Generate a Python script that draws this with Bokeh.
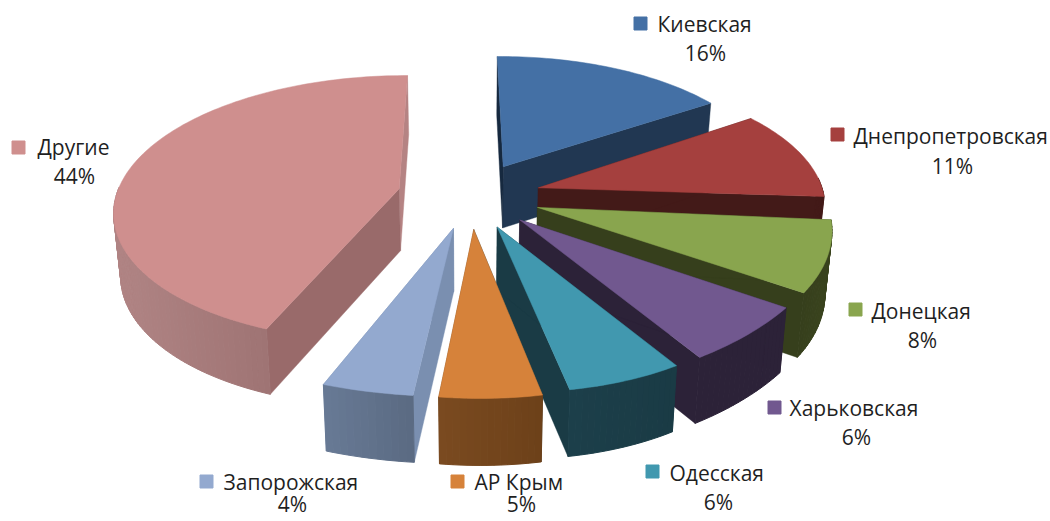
import math
from bokeh.plotting import figure
from bokeh.core.properties import value
from bokeh.embed import file_html
from bokeh.resources import INLINE

# --- data -------------------------------------------------------------
regions = ["Киевская", "Днепропетровская", "Донецкая", "Харьковская",
           "Одесская", "АР Крым", "Запорожская", "Другие"]
shares = [16, 11, 8, 6, 6, 5, 4, 44]
share_labels = ["16%", "11%", "8%", "6%", "6%", "5%", "4%", "44%"]

# --- styles -----------------------------------------------------------
top_colors = ["#4470A5", "#A5403E", "#89A54E", "#71588F", "#4198AF", "#D6823A", "#93A9CF", "#CF8F8E"]
start_face = ["#16293F", "#431A18", "#363F1C", "#2C2238", "#1A3B45", "#1A3B45", "#7A8FB0", "#996A6A"]
end_face = ["#213752", "#431A18", "#363F1C", "#2C2238", "#1A3B45", "#6D4119", "#7A8FB0", "#B58383"]
wall_a = ["#213752", "#431A18", "#3A441E", "#2C2238", "#1A3B45", "#6D4119", "#5A6A82", "#8F6565"]
wall_b = ["#213752", "#431A18", "#363F1C", "#2C2238", "#1C3F4A", "#7A4A20", "#687A95", "#B08484"]
draw_order = [0, 1, 2, 3, 7, 4, 5, 6]

# small per-slice corrections of the renderer's perspective, in pixels:
# start dx, start dy, end dx, end dy of the rim, and dx of the apex
rim_nudge = [(-3, 0, -5, -1, -1), (-2, -4, 3, -8, -1), (6, -5, 10, -2, 0), (7, -2, -3, 3, -1),
             (-2, 2, 4, 0, -1), (5, 2, 7, 2, 0), (5, 2, -4, 3, 0), (-9, 0, -4, 2, -4)]

# layout of the labels: marker x, marker y, name left x, name y, percent centre x, percent y
label_layout = [
    (640, 23, 657, 23, 705, 52), (837, 134, 853, 135, 952, 165), (855, 309, 871, 310, 922, 339),
    (774, 407, 789, 407, 856, 436), (652, 471, 669, 472, 718, 501), (457, 481, 474, 481, 521, 503),
    (206, 481, 223, 481, 292, 503), (18, 147, 37, 146, 74, 175),
]

# --- projection -------------------------------------------------------
CX, CY, RX, RY, K, EXPLODE, DEPTH = 471, 194.5, 280, 133, 0.14, 0.25, 62


def project(X, Y, down=False):
    s = 1 / (1 - K * Y)
    x = CX + RX * X * s
    y = CY + RY * Y * s
    if down:
        x = CX + (x - CX) * 0.98
        y += DEPTH * s ** 0.4
    return x, y


def mix(c1, c2, t):
    a = [int(c1[i:i + 2], 16) for i in (1, 3, 5)]
    b = [int(c2[i:i + 2], 16) for i in (1, 3, 5)]
    return "#%02x%02x%02x" % tuple(round(u + (v - u) * t) for u, v in zip(a, b))


p = figure(width=1050, height=521, x_range=(0, 1050), y_range=(521, 0),
           output_backend="svg", toolbar_location=None, min_border=0)
p.axis.visible = False
p.grid.visible = False
p.outline_line_color = None

total = sum(shares)
starts = []
acc = 0
for v in shares:
    starts.append(acc)
    acc += v

for i in draw_order:
    a0 = 2 * math.pi * starts[i] / total
    a1 = 2 * math.pi * (starts[i] + shares[i]) / total
    mid = (a0 + a1) / 2
    ex, ey = EXPLODE * math.sin(mid), -EXPLODE * math.cos(mid)
    n = max(8, shares[i] * 3)
    angs = [a0 + (a1 - a0) * j / n for j in range(n + 1)]
    rim = [(ex + math.sin(a), ey - math.cos(a)) for a in angs]
    sdx, sdy, edx, edy, adx = rim_nudge[i]
    tops, bots = [], []
    for j, q in enumerate(rim):
        w = j / n
        ox, oy = sdx + (edx - sdx) * w, sdy + (edy - sdy) * w
        tx, ty = project(*q)
        bx_, by_ = project(*q, down=True)
        tops.append((tx + ox, ty + oy))
        bots.append((bx_ + ox, by_ + oy))

    # the two cut faces
    ax, ay = project(ex, ey)
    bx, by = project(ex, ey, down=True)
    ax += adx
    bx += adx
    for q_t, q_b, col in ((tops[-1], bots[-1], end_face[i]), (tops[0], bots[0], start_face[i])):
        p.patch([ax, q_t[0], q_b[0], bx], [ay, q_t[1], q_b[1], by],
                fill_color=col, line_color=col, line_width=0.4)

    # outer wall as strips, shaded across its width; only the part facing the viewer
    xmin = min(t[0] for t in tops)
    xmax = max(t[0] for t in tops)
    for j in range(n):
        if math.cos((angs[j] + angs[j + 1]) / 2) > 0.02:
            continue
        t = ((tops[j][0] + tops[j + 1][0]) / 2 - xmin) / max(1, xmax - xmin)
        col = mix(wall_b[i], wall_a[i], t)
        p.patch([tops[j][0], tops[j + 1][0], bots[j + 1][0], bots[j][0]],
                [tops[j][1], tops[j + 1][1], bots[j + 1][1], bots[j][1]],
                fill_color=col, line_color=col, line_width=1)

    # top surface
    p.patch([ax] + [t[0] for t in tops], [ay] + [t[1] for t in tops],
            fill_color=top_colors[i], line_color=top_colors[i], line_width=0.5)

font = value("Open Sans")
for name, pct, col, (mx, my, nx, ny, tx, py) in zip(regions, share_labels, top_colors, label_layout):
    p.scatter([mx], [my], marker="square", size=13, fill_color=col, line_color=col)
    p.text([nx], [ny], text=[name], text_font=font, text_font_size="21px",
           text_align="left", text_baseline="middle", text_color="#1f1f1f")
    p.text([tx], [py], text=[pct], text_font=font, text_font_size="21px",
           text_align="center", text_baseline="middle", text_color="#1f1f1f")

open("out.html", "w").write(file_html(p, INLINE))
